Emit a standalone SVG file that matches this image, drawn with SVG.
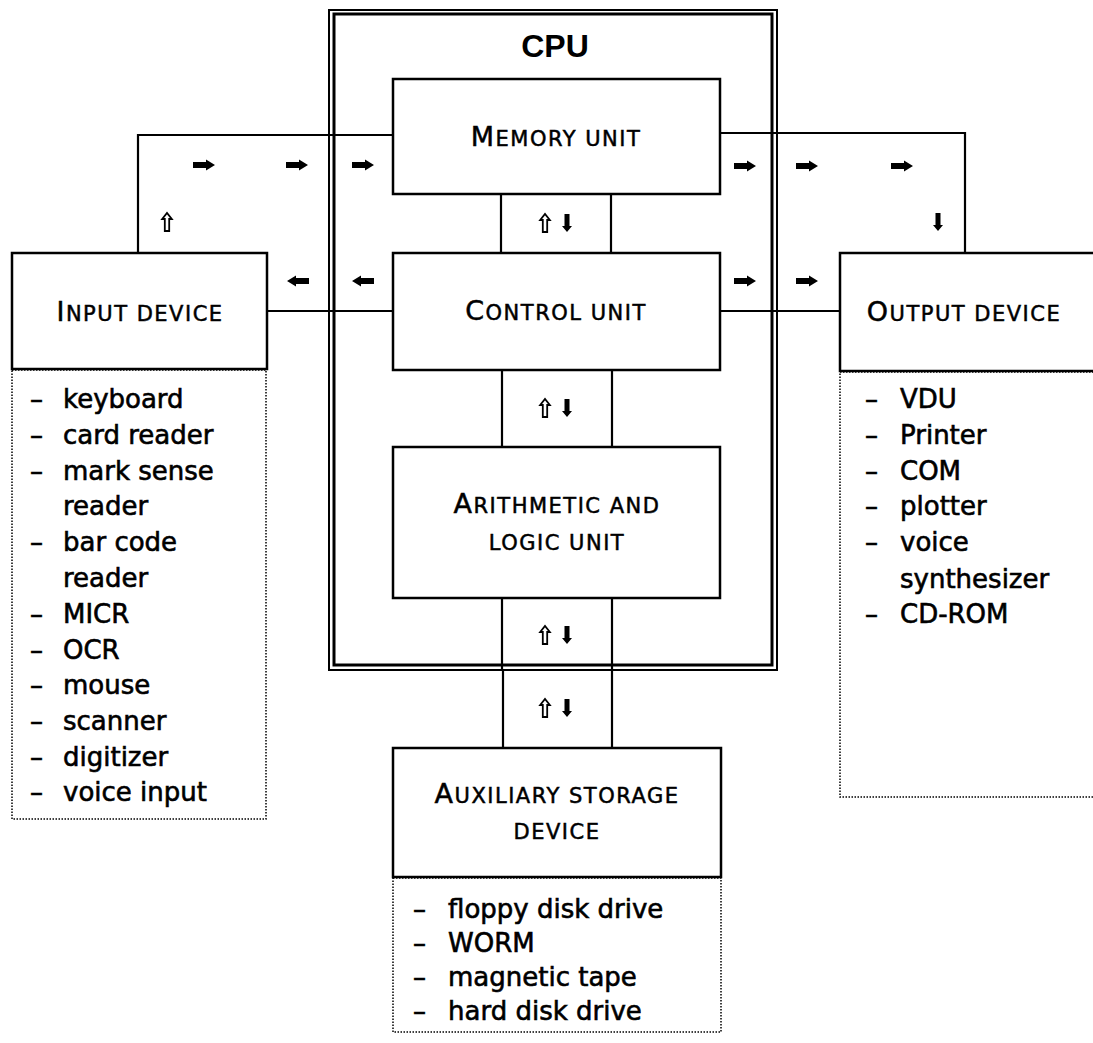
<svg xmlns="http://www.w3.org/2000/svg" width="1093" height="1043" viewBox="0 0 1093 1043">
<style>
.box{fill:#fff;stroke:#000;stroke-width:2.5}
.dot{fill:none;stroke:#000;stroke-width:1.5;stroke-dasharray:1.5 1.5}
.ln{fill:none;stroke:#000;stroke-width:2.2}
.cap{font-family:"DejaVu Sans","Liberation Sans",sans-serif;font-size:21px;letter-spacing:1.5px;text-anchor:middle;fill:#000;stroke:#000;stroke-width:0.5}
.big{font-size:27px}
.li{font-family:"DejaVu Sans","Liberation Sans",sans-serif;font-size:26px;fill:#000;stroke:#000;stroke-width:0.6}
.cpu{font-family:"Liberation Sans",sans-serif;font-weight:bold;font-size:32px;text-anchor:middle;fill:#000}
</style>
<defs>
<path id="ar" d="M-11,-3 H2 V-5.5 L11,0 L2,5.5 V3 H-11 Z" fill="#000"/>
<path id="al" d="M11,-3 H-2 V-5.5 L-11,0 L-2,5.5 V3 H11 Z" fill="#000"/>
<path id="au" d="M-2.2,9 V-3 H-4.8 L0,-9 L4.8,-3 H2.2 V9 Z" fill="#fff" stroke="#000" stroke-width="1.8"/>
<path id="ad" d="M-2.5,-9 V3 H-5 L0,9 L5,3 H2.5 V-9 Z" fill="#000"/>
<g id="pair"><use href="#au" x="-11"/><use href="#ad" x="11"/></g>
</defs>

<g id="connectors">
<path class="ln" d="M138,253 V135 H393"/>
<path class="ln" d="M720,133 H965 V253"/>
<path class="ln" d="M267,311 H393"/>
<path class="ln" d="M720,311 H840"/>
<path class="ln" d="M501,194 V253 M611,194 V253"/>
<path class="ln" d="M502,370 V447 M612,370 V447"/>
<path class="ln" d="M502,598 V670 M612,598 V670"/>
<path class="ln" d="M503,670 V748 M612,670 V748"/>
<use href="#ar" x="204" y="165"/>
<use href="#ar" x="297" y="165"/>
<use href="#ar" x="363" y="165"/>
<use href="#au" x="167" y="222"/>
<use href="#al" x="298" y="281"/>
<use href="#al" x="363" y="281"/>
<use href="#ar" x="745" y="166"/>
<use href="#ar" x="807" y="166"/>
<use href="#ar" x="902" y="166"/>
<use href="#ad" x="938" y="222"/>
<use href="#ar" x="745" y="281"/>
<use href="#ar" x="807" y="281"/>
<use href="#pair" x="556" y="223"/>
<use href="#pair" x="556" y="408"/>
<use href="#pair" x="556" y="635"/>
<use href="#pair" x="556" y="708"/>
</g>

<g id="cpu">
<rect x="329" y="10" width="448" height="660" fill="none" stroke="#000" stroke-width="2"/>
<rect x="334" y="14" width="438" height="651" fill="none" stroke="#000" stroke-width="3"/>
<text class="cpu" x="555" y="57">CPU</text>
</g>

<g id="memory">
<rect class="box" x="393" y="79" width="327" height="115"/>
<text class="cap" x="556" y="146"><tspan class="big">M</tspan>EMORY UNIT</text>
</g>

<g id="control">
<rect class="box" x="393" y="253" width="327" height="117"/>
<text class="cap" x="556" y="320"><tspan class="big">C</tspan>ONTROL UNIT</text>
</g>

<g id="alu">
<rect class="box" x="393" y="447" width="327" height="151"/>
<text class="cap" x="557" y="513"><tspan class="big">A</tspan>RITHMETIC AND</text>
<text class="cap" x="557" y="550">LOGIC UNIT</text>
</g>

<g id="input">
<rect class="box" x="12" y="253" width="255" height="116"/>
<text class="cap" x="140" y="321"><tspan class="big">I</tspan>NPUT DEVICE</text>
<rect class="dot" x="12" y="370" width="254" height="449"/>
<g class="li">
<text x="30" y="408">–</text><text x="63" y="408">keyboard</text>
<text x="30" y="444">–</text><text x="63" y="444">card reader</text>
<text x="30" y="480">–</text><text x="63" y="480">mark sense</text>
<text x="63" y="515">reader</text>
<text x="30" y="551">–</text><text x="63" y="551">bar code</text>
<text x="63" y="587">reader</text>
<text x="30" y="623">–</text><text x="63" y="623">MICR</text>
<text x="30" y="659">–</text><text x="63" y="659">OCR</text>
<text x="30" y="694">–</text><text x="63" y="694">mouse</text>
<text x="30" y="730">–</text><text x="63" y="730">scanner</text>
<text x="30" y="766">–</text><text x="63" y="766">digitizer</text>
<text x="30" y="801">–</text><text x="63" y="801">voice input</text>
</g>
</g>

<g id="output">
<rect class="box" x="840" y="253" width="262" height="118"/>
<text class="cap" x="964" y="321"><tspan class="big">O</tspan>UTPUT DEVICE</text>
<rect class="dot" x="840" y="372" width="262" height="425"/>
<g class="li">
<text x="865" y="408">–</text><text x="900" y="408">VDU</text>
<text x="865" y="444">–</text><text x="900" y="444">Printer</text>
<text x="865" y="480">–</text><text x="900" y="480">COM</text>
<text x="865" y="515">–</text><text x="900" y="515">plotter</text>
<text x="865" y="551">–</text><text x="900" y="551">voice</text>
<text x="900" y="588">synthesizer</text>
<text x="865" y="623">–</text><text x="900" y="623">CD-ROM</text>
</g>
</g>

<g id="auxiliary">
<rect class="box" x="393" y="748" width="328" height="129"/>
<text class="cap" x="557" y="803"><tspan class="big">A</tspan>UXILIARY STORAGE</text>
<text class="cap" x="557" y="839">DEVICE</text>
<rect class="dot" x="393" y="878" width="328" height="154"/>
<g class="li">
<text x="413" y="918">–</text><text x="448" y="918">floppy disk drive</text>
<text x="413" y="952">–</text><text x="448" y="952">WORM</text>
<text x="413" y="986">–</text><text x="448" y="986">magnetic tape</text>
<text x="413" y="1020">–</text><text x="448" y="1020">hard disk drive</text>
</g>
</g>
</svg>
